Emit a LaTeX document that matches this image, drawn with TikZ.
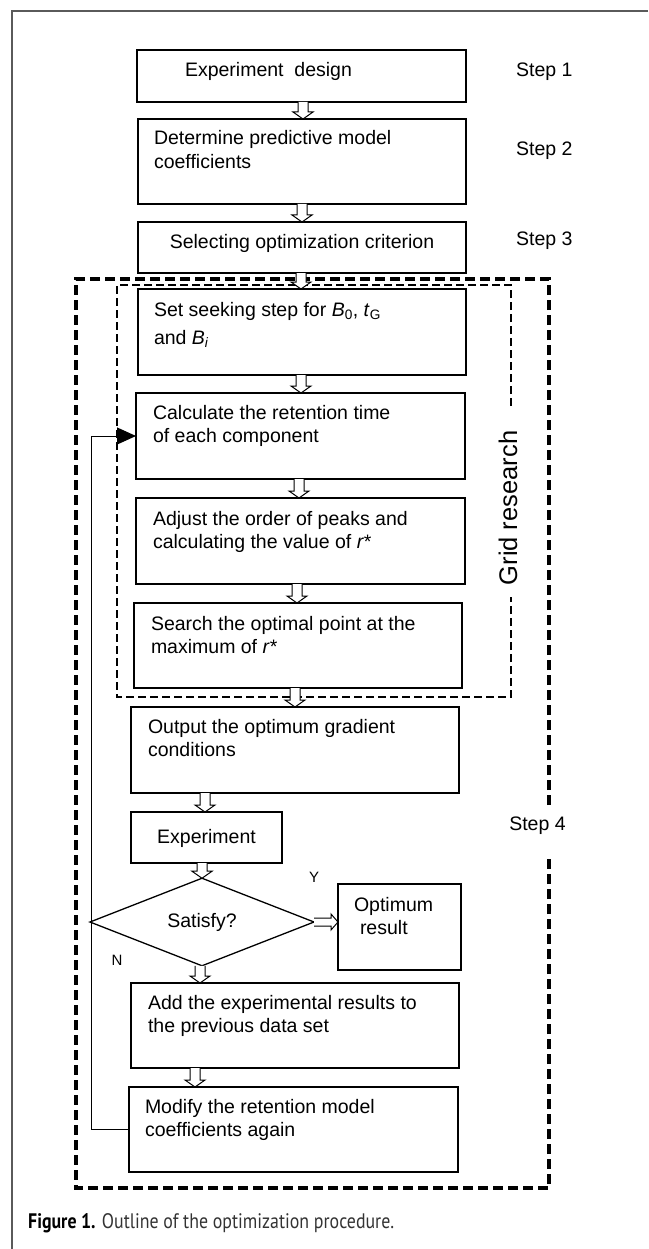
\documentclass[tikz,border=0pt]{standalone}
\usepackage{fontspec}
\setmainfont{Liberation Sans}
\newfontfamily\capfont[FakeStretch=0.85]{PT Sans}
\usetikzlibrary{arrows.meta,shapes.geometric,calc}
\definecolor{framegray}{HTML}{5A5A5A}
\definecolor{capgray}{HTML}{333333}
\tikzset{
  box/.style={draw, line width=1.3pt, inner sep=0pt, outer sep=0pt, anchor=north west},
  dia/.style={diamond, draw, line width=1.3pt, inner sep=0pt, outer sep=0pt,
              minimum width=224pt, minimum height=82pt},
  harrow/.style={draw, fill=white, line width=1pt, line join=miter},
  loopline/.style={draw, line width=1pt, -{Triangle[length=19pt,width=17pt]}},
  outerdash/.style={draw, line width=3.1pt, dash pattern=on 10pt off 5pt},
  innerdash/.style={draw, line width=2.6pt, dash pattern=on 8pt off 4pt},
  frameline/.style={draw=framegray, line width=1.2pt},
  lbl/.style={inner sep=0pt},
  small/.style={inner sep=0pt, font=\fontsize{15}{18}\selectfont}
}
% box with top-aligned text: [first baseline]{name}{x}{y}{w}{h}{format}{text}
\newcommand\fbx[8][26]{\node[box] (#2) at (#3,#4)
  {\parbox[c][#6pt][t]{#5pt}{\raggedright #7\relax\rule{0pt}{#1pt}#8}};}
% hollow block arrow downwards at given x
\newcommand\varrow[3]{\draw[harrow] let \p1=(#1.south), \p2=(#2.north) in
  ({#3pt-5pt},\y1) -- ({#3pt-5pt},{\y2+7pt}) -- ({#3pt-10pt},{\y2+7pt}) --
  ({#3pt},\y2) -- ({#3pt+10pt},{\y2+7pt}) -- ({#3pt+5pt},{\y2+7pt}) -- ({#3pt+5pt},\y1);}
% hollow block arrow to the right
\newcommand\rarrow[2]{\draw[harrow] let \p1=(#1.east), \p2=(#2.west) in
  (\x1,{\y1+4pt}) -- ({\x2-7pt},{\y1+4pt}) -- ({\x2-7pt},{\y1+8pt}) --
  (\x2,\y1) -- ({\x2-7pt},{\y1-8pt}) -- ({\x2-7pt},{\y1-4pt}) -- (\x1,{\y1-4pt});}

\begin{document}
\begin{tikzpicture}[x=1pt, y=-1pt, font=\fontsize{19.5}{23.5}\selectfont]
\useasboundingbox (0,0) rectangle (648,1249);

% page frame
\draw[frameline] (648,11) -- (12,11) -- (12,1249);

% dashed group frames
\coordinate (oTL) at (76,279);
\coordinate (oBR) at (549,1188);
\draw[outerdash] (549,805) -- (oBR |- oTL) -- (oTL) -- (oTL |- oBR) -- (oBR) -- (549,856);
\coordinate (iTL) at (117,285);
\coordinate (iBR) at (511,697);
\draw[innerdash] (511,406) -- (iBR |- iTL) -- (iTL) -- (iTL |- iBR) -- (iBR) -- (511,597);

% boxes
\fbx[27]{b1}{137}{50}{329}{52}{\leftskip=48pt}{Experiment\hspace{5.4pt} design}
\fbx{b2}{138}{119}{328}{85}{\leftskip=16pt}{Determine predictive model\\coefficients}
\fbx{b3}{138}{222}{328}{51}{\centering}{Selecting optimization criterion}
\fbx[27]{b4}{138}{289}{328}{86}{\leftskip=16pt}{Set seeking step for \textit{B}\textsubscript{0}, \textit{t}\textsubscript{G}\\[4.5pt]and \textit{B}\textsubscript{\textit{i}}}
\fbx{b5}{136}{393}{329}{86}{\leftskip=17pt}{Calculate the retention time\\of each component}
\fbx[27]{b6}{136}{498}{329}{86}{\leftskip=17pt}{Adjust the order of peaks and\\calculating the value of \textit{r}*}
\fbx[27]{b7}{134}{603}{328}{85}{\leftskip=17pt}{Search the optimal point at the\\maximum of \textit{r}*}
\fbx{b8}{131}{707}{328}{86}{\leftskip=17pt}{Output the optimum gradient\\conditions}
\fbx[31]{b9}{131}{812}{151}{51}{\centering}{Experiment}
\node[dia] (d) at (202,922) {Satisfy?};
\fbx[27]{opt}{338}{884}{123}{86}{\leftskip=16pt}{Optimum\\\hspace*{6pt}result}
\fbx{b10}{131}{983}{328}{85}{\leftskip=17pt}{Add the experimental results to\\the previous data set}
\fbx{b11}{129}{1087}{329}{85}{\leftskip=16pt}{Modify the retention model\\coefficients again}

% labels
\node[lbl, anchor=base west] (s1) at (516,77) {Step 1};
\node[lbl, anchor=base west] (s2) at (516,156) {Step 2};
\node[lbl, anchor=base west] (s3) at (516,246) {Step 3};
\node[lbl, anchor=base] (s4) at (537.5,830) {Step 4};
\node[lbl, rotate=90, font=\fontsize{25.5}{30}\selectfont] (grid) at (508,508) {Grid research};
\node[small] (ylab) at (314,877) {Y};
\node[small] (nlab) at (117,960) {N};

% feedback loop
\coordinate (lp) at (91,0);
\draw[loopline] (b11.west) -- (b11.west -| lp) -- (b5.west -| lp) -- (b5.west);

% block arrows
\varrow{b1}{b2}{303}
\varrow{b2}{b3}{302}
\varrow{b3}{b4}{301}
\varrow{b4}{b5}{301}
\varrow{b5}{b6}{299}
\varrow{b6}{b7}{297}
\varrow{b7}{b8}{295}
\varrow{b8}{b9}{205}
\varrow{b9}{d}{202}
\varrow{d}{b10}{200}
\varrow{b10}{b11}{195}
\rarrow{d}{opt}

% caption
\node[lbl, anchor=base west] (cap) at (28,1228)
  {\capfont\fontsize{21}{25}\selectfont\textbf{Figure 1.} \textcolor{capgray}{Outline of the optimization procedure.}};
\end{tikzpicture}
\end{document}
